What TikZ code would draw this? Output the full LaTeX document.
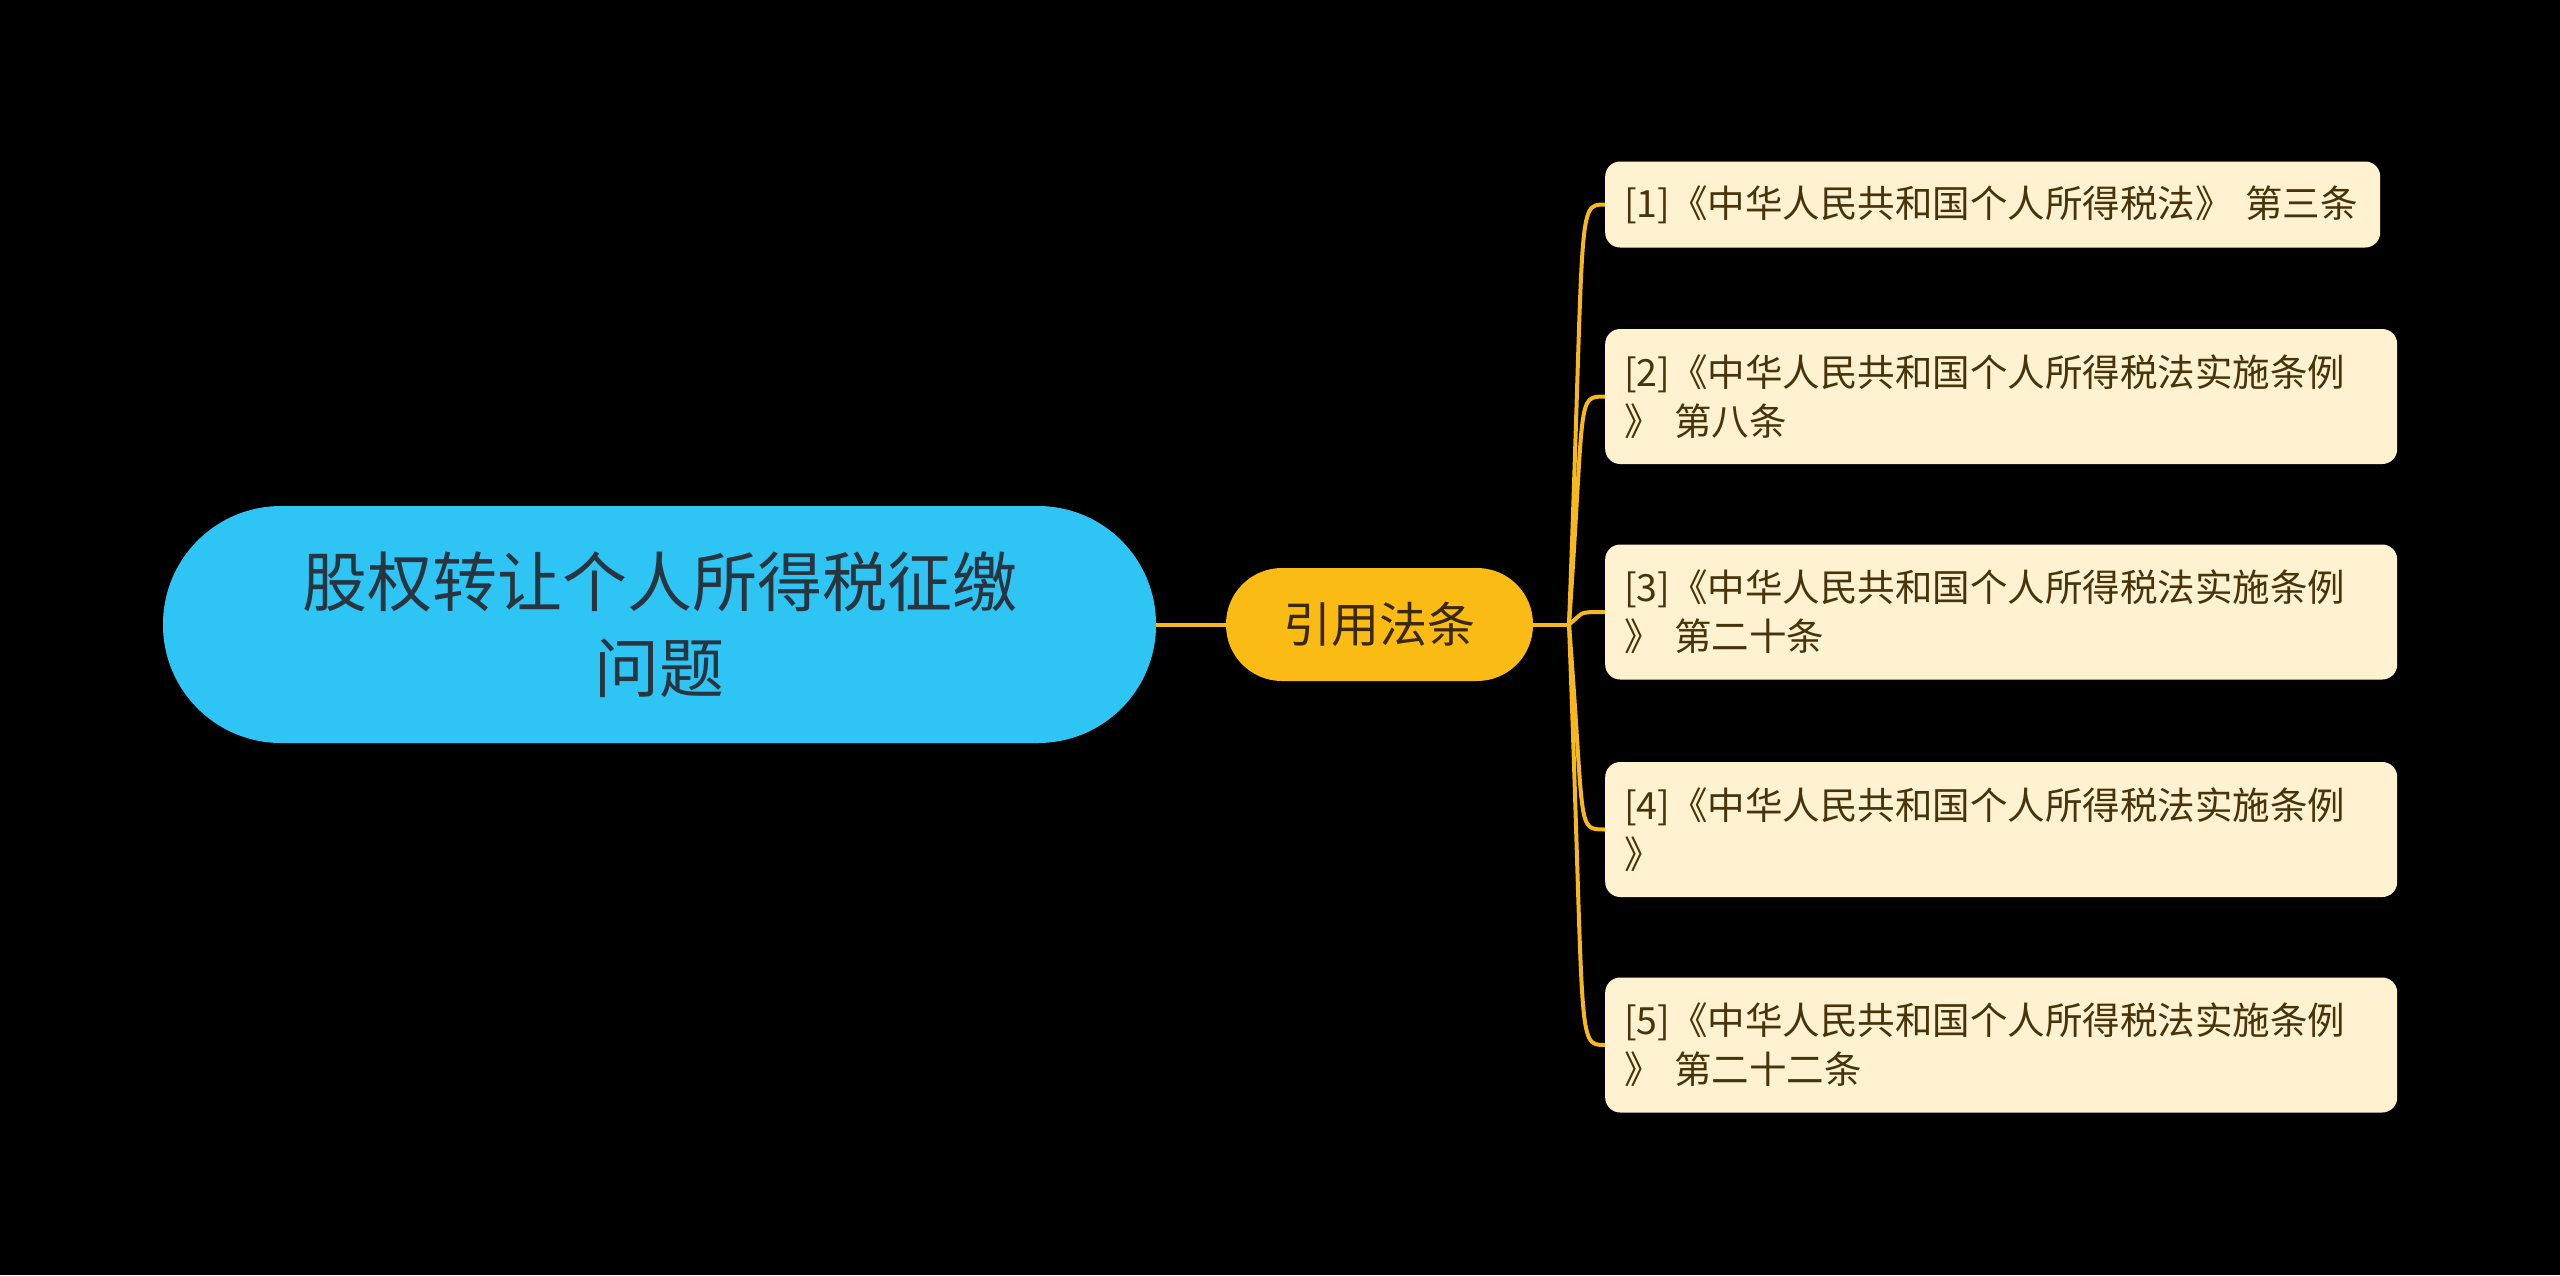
\documentclass[tikz,border=0pt]{standalone}
\usepackage{fontspec}
\setmainfont{Noto Sans CJK SC}
\definecolor{bgc}{RGB}{0,0,0}
\definecolor{rootfill}{RGB}{46,196,244}
\definecolor{roottext}{RGB}{40,52,62}
\definecolor{midfill}{RGB}{250,188,20}
\definecolor{midtext}{RGB}{58,40,8}
\definecolor{leaffill}{RGB}{254,242,208}
\definecolor{leaftext}{RGB}{72,52,12}
\definecolor{linkc}{RGB}{246,184,28}
\tikzset{
  rootbox/.style={fill=rootfill, text=roottext, rounded corners=118pt, minimum width=993pt, minimum height=237pt, align=center, inner sep=0pt, font=\fontsize{65}{86}\selectfont},
  midbox/.style={fill=midfill, text=midtext, rounded corners=56pt, minimum width=307pt, minimum height=113pt, inner sep=0pt, font=\fontsize{48}{60}\selectfont},
  leafbox/.style={fill=leaffill, text=leaftext, rounded corners=15pt, anchor=west, inner xsep=19pt, inner ysep=0pt, align=left, font=\fontsize{37.5}{49}\selectfont},
  link/.style={draw=linkc, line width=4pt}
}
\begin{document}
\begin{tikzpicture}[x=1pt,y=-1pt]
\fill[bgc] (0,0) rectangle (2560,1275);
\useasboundingbox (0,0) rectangle (2560,1275);
\node[rootbox] (root) at (659.5,624.5) {股权转让个人所得税征缴\\问题};
\node[midbox] (mid) at (1379.5,624.5) {引用法条};
\node[leafbox, text width=737pt, minimum height=86pt] (l1) at (1605,204.5) {[1]《中华人民共和国个人所得税法》 第三条};
\node[leafbox, text width=754pt, minimum height=135pt] (l2) at (1605,396.5) {[2]《中华人民共和国个人所得税法实施条例\\》 第八条};
\node[leafbox, text width=754pt, minimum height=135pt] (l3) at (1605,612) {[3]《中华人民共和国个人所得税法实施条例\\》 第二十条};
\node[leafbox, text width=754pt, minimum height=135pt] (l4) at (1605,829.5) {[4]《中华人民共和国个人所得税法实施条例\\》};
\node[leafbox, text width=754pt, minimum height=135pt] (l5) at (1605,1045) {[5]《中华人民共和国个人所得税法实施条例\\》 第二十二条};
\coordinate (hub) at (1569,624.5);
\coordinate (hubA) at (1585,624.5);
\coordinate (hubB) at (1576,624.5);
\draw[link] (root.east) -- (mid.west);
\draw[link] (mid.east) -- (hub);
\foreach \n in {l1,l2,l3,l4,l5}{
  \draw[link] (hub) .. controls (hubA |- \n.west) and (hubB |- \n.west) .. (\n.west);
}
\end{tikzpicture}
\end{document}
